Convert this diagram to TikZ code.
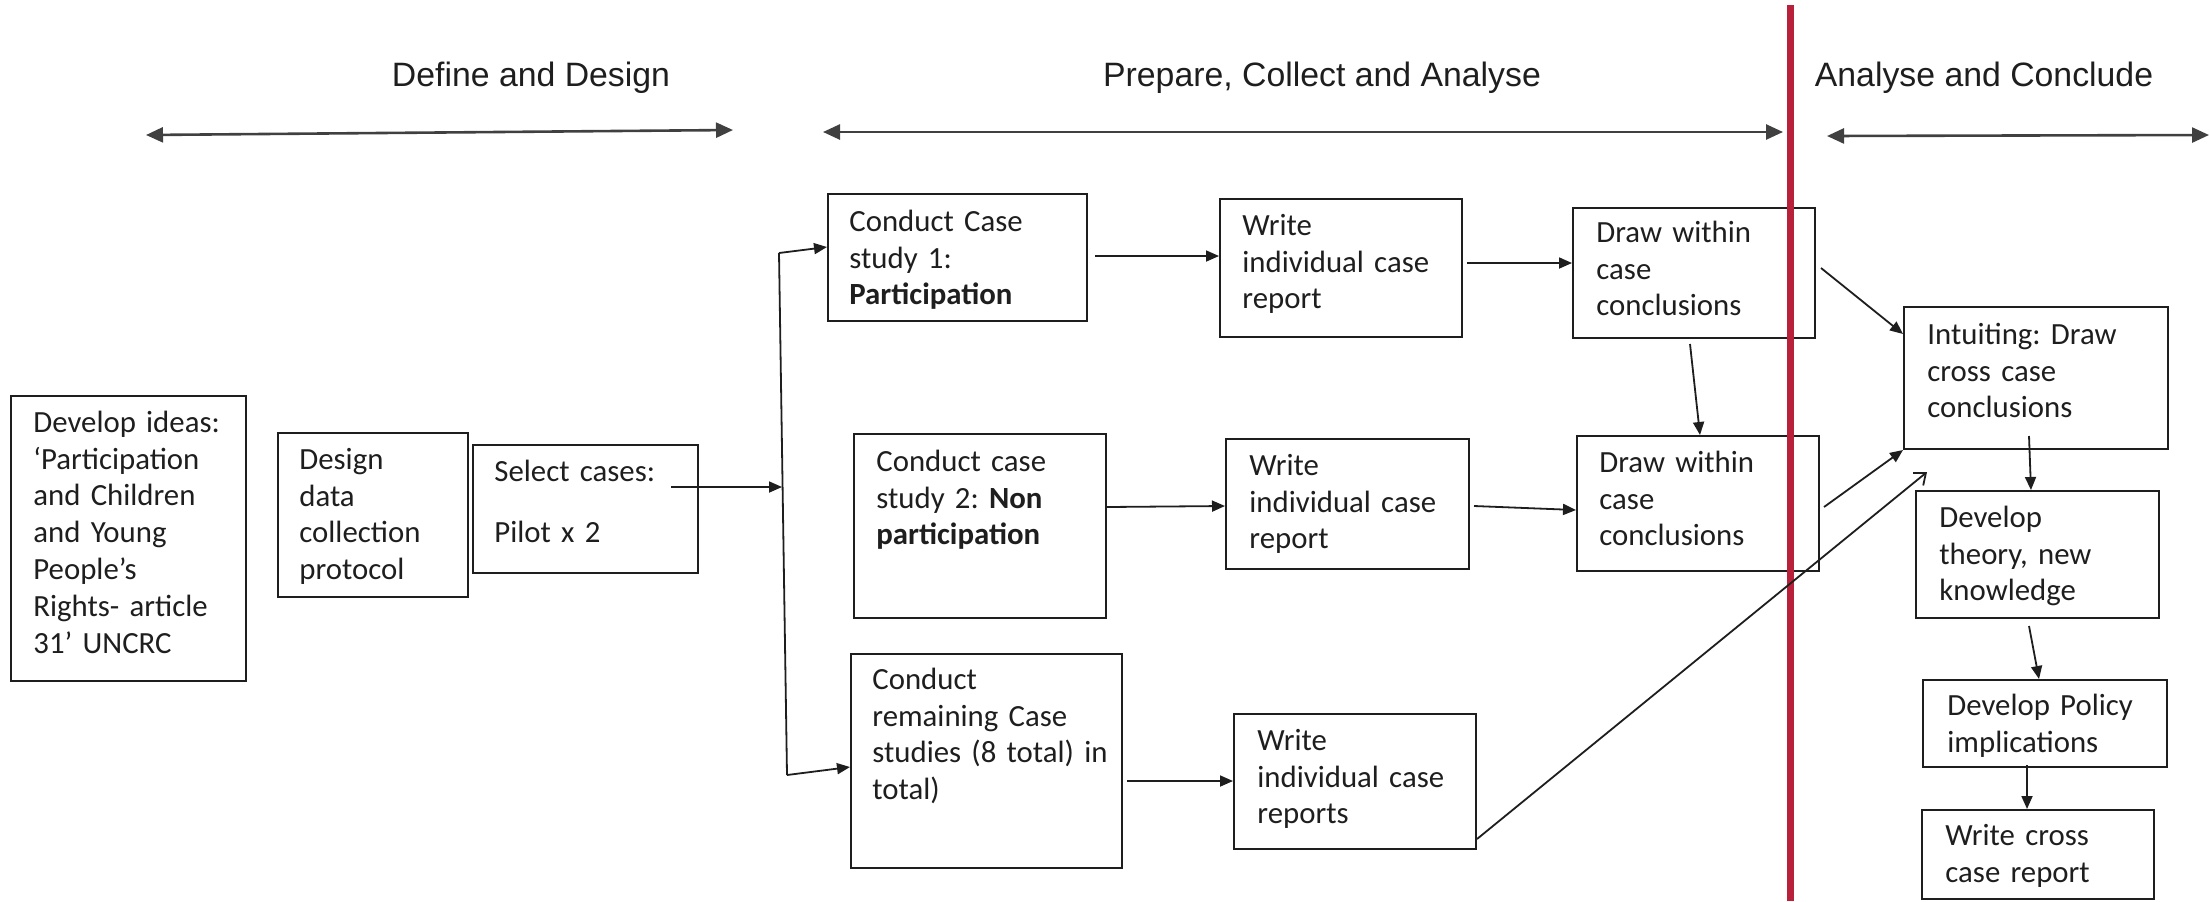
\documentclass[tikz,border=0pt]{standalone}
\usepackage{fontspec}
\setmainfont{Carlito}
\newfontfamily\hfont{Liberation Sans}
\usetikzlibrary{arrows.meta,fit,calc}
\definecolor{redline}{RGB}{185,33,58}
\definecolor{ink}{RGB}{30,30,30}
\frenchspacing
\begin{document}
\begin{tikzpicture}[x=0.5pt,y=-0.5pt,
  box/.style={draw=ink, line width=1pt, inner sep=0pt},
  txt/.style={anchor=north west, inner sep=0pt, text width=150pt, align=left, text=ink, font=\fontsize{15.4}{18.4}\selectfont\frenchspacing},
  arr/.style={draw=ink, line width=0.9pt, -{Triangle[length=6.5pt,width=5.5pt]}},
  oarr/.style={draw=ink, line width=0.9pt, -{Straight Barb[length=5pt,width=8pt]}},
  hdr/.style={font=\hfont\fontsize{16.9}{20}\selectfont, anchor=base, text=ink, inner sep=0pt},
  harr/.style={draw=ink!85, line width=1.3pt, {Triangle[length=8.5pt,width=7.5pt]}-{Triangle[length=8.5pt,width=7.5pt]}}]
\useasboundingbox (0,0) rectangle (2210,901);

% headers
\node[hdr] (h1t) at (531,86) {Define and Design};
\node[hdr] (h2t) at (1322,86) {Prepare, Collect and Analyse};
\node[hdr] (h3t) at (1984,86) {Analyse and Conclude};
\coordinate (h1a) at (146,135); \coordinate (h1b) at (733,130);
\coordinate (h2a) at (823,132); \coordinate (h2b) at (1783,132);
\coordinate (h3a) at (1827,136); \coordinate (h3b) at (2209,135);
\draw[harr] (h1a) -- (h1b);
\draw[harr] (h2a) -- (h2b);
\draw[harr] (h3a) -- (h3b);

% boxes
\node[box, fit={(11,396) (246,681)}] (dev) {};
\node[box, fit={(278,433) (468,597)}] (design) {};
\node[box, fit={(473,445) (698,573)}] (select) {};
\node[box, fit={(828,194) (1087,321)}] (cs1) {};
\node[box, fit={(1220,199) (1462,337)}] (w1) {};
\node[box, fit={(854,434) (1106,618)}] (cs2) {};
\node[box, fit={(1226,439) (1469,569)}] (w2) {};
\node[box, fit={(851,654) (1122,868)}] (cs3) {};
\node[box, fit={(1234,714) (1476,849)}] (w3) {};
\node[box, fit={(1573,208) (1815,338)}] (dw1) {};
\node[box, fit={(1577,436) (1819,571)}] (dw2) {};
\node[box, fit={(1904,307) (2168,449)}] (int) {};
\node[box, fit={(1916,491) (2159,618)}] (dt) {};
\node[box, fit={(1923,680) (2167,767)}] (pol) {};
\node[box, fit={(1922,810) (2154,899)}] (wc) {};

% texts
\node[txt] (devt) at (33,406.2) {\strut Develop ideas:\\ ‘Participation\\ and Children\\ and Young\\ People’s\\ Rights- article\\ 31’ UNCRC};
\node[txt] (designt) at (299,443.2) {\strut Design\\ data\\ collection\\ protocol};
\node[txt] (selectt) at (494,455.2) {\strut Select cases:\\[12.1pt] Pilot x 2};
\node[txt] (cs1t) at (849,205.2) {\strut Conduct Case\\ study 1:\\ \textbf{Participation}};
\node[txt] (w1t) at (1242,209.2) {\strut Write\\ individual case\\ report};
\node[txt] (cs2t) at (876,445.2) {\strut Conduct case\\ study 2: \textbf{Non}\\ \textbf{participation}};
\node[txt] (w2t) at (1249,449.2) {\strut Write\\ individual case\\ report};
\node[txt] (cs3t) at (872,663.2) {\strut Conduct\\ remaining Case\\ studies (8 total) in\\ total)};
\node[txt] (w3t) at (1257,724.2) {\strut Write\\ individual case\\ reports};
\node[txt] (dw1t) at (1596,216.2) {\strut Draw within\\ case\\ conclusions};
\node[txt] (dw2t) at (1599,446.2) {\strut Draw within\\ case\\ conclusions};
\node[txt] (intt) at (1927,318.2) {\strut Intuiting: Draw\\ cross case\\ conclusions};
\node[txt] (dtt) at (1939,501.2) {\strut Develop\\ theory, new\\ knowledge};
\node[txt] (polt) at (1947,689.2) {\strut Develop Policy\\ implications};
\node[txt] (wct) at (1945,819.2) {\strut Write cross\\ case report};

% red divider
\coordinate (r1) at (1790,5); \coordinate (r2) at (1790,901);
\draw[redline, line width=3.5pt] (r1) -- (r2);

% junction
\coordinate (jt) at (779,253);
\coordinate (jm) at (782,487);
\coordinate (jb) at (787,775);
\coordinate (s0) at (671,487);
\draw[ink, line width=0.9pt] (jt) -- (jb);
\draw[arr] (s0) -- (jm);
\draw[arr] (jt) -- (cs1.west |- 0,247);
\draw[arr] (jb) -- (cs3.west |- 0,767);

% connectors
\draw[arr] (cs1.east |- 0,256) ++(7,0) -- (w1.west |- 0,256);
\draw[arr] (cs2.east |- 0,507) -- (w2.west |- 0,506);
\draw[arr] (cs3.east |- 0,781) ++(4,0) -- (w3.west |- 0,781);
\draw[arr] (w1.east |- 0,263) ++(4,0) -- (dw1.west |- 0,263);
\draw[arr] (w2.east |- 0,506) ++(4,0) -- (dw2.west |- 0,510);
\draw[oarr] (w3.east |- 0,839) -- (1927,472);
\draw[arr] (dw1.south -| 1690,0) ++(0,5) -- (dw2.north -| 1700,0);
\draw[arr] (dw1.east |- 0,268) ++(5,0) -- (int.west |- 0,334);
\draw[arr] (dw2.east |- 0,507) ++(4,0) -- (int.south west);
\draw[arr] (int.south -| 2029,0) ++(0,-14) -- (dt.north -| 2031,0);
\draw[arr] (dt.south -| 2029,0) ++(0,7) -- (pol.north -| 2039,0);
\draw[arr] (pol.south -| 2027,0) ++(0,-3) -- (wc.north -| 2027,0);
\end{tikzpicture}
\end{document}
